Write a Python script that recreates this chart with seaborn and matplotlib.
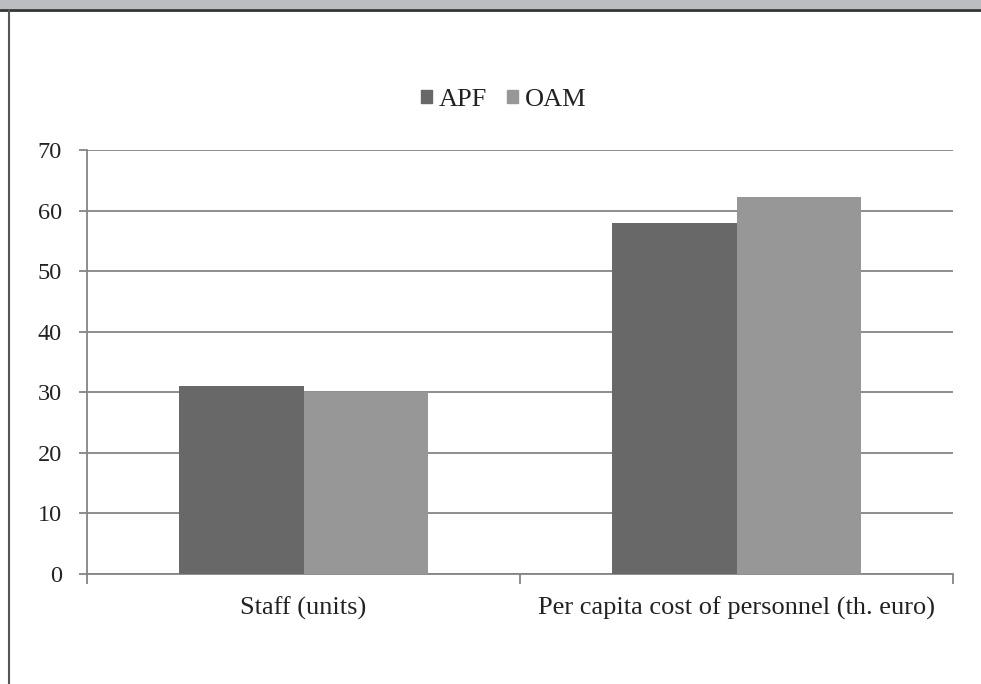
import matplotlib
matplotlib.use("Agg")
import matplotlib.pyplot as plt
import seaborn as sns
import pandas as pd
from matplotlib.patches import Rectangle
from matplotlib.lines import Line2D

categories = ["Staff (units)", "Per capita cost of personnel (th. euro)"]
series = ["APF", "OAM"]
apf_values = [31.0, 58.0]
oam_values = [30.1, 62.3]
y_ticks = [0, 10, 20, 30, 40, 50, 60, 70]

df = pd.DataFrame({
    "category": categories * 2,
    "series": [series[0]] * 2 + [series[1]] * 2,
    "value": apf_values + oam_values,
})

sns.set_style("white")
plt.rcParams["font.family"] = ["Liberation Serif", "DejaVu Serif"]

fig = plt.figure(figsize=(9.81, 6.84), dpi=100)
ax = fig.add_axes([87/981, 1-574/684, (953-87)/981, (574-150)/684])

palette = {"APF": "#686868", "OAM": "#979797"}
sns.barplot(data=df, x="category", y="value", hue="series", order=categories,
            hue_order=series, palette=palette, width=0.573, ax=ax,
            saturation=1, linewidth=0, zorder=3)

ax.set_xlim(-0.5, 1.5)
ax.set_ylim(0, 70)
ax.set_yticks(y_ticks)
ax.set_xlabel("")
ax.set_ylabel("")
ax.yaxis.grid(True, color="#858585", linewidth=1.3, zorder=0)
ax.set_axisbelow(True)
for s in ["top", "right"]:
    ax.spines[s].set_visible(False)
for s in ["left", "bottom"]:
    ax.spines[s].set_color("#858585")
    ax.spines[s].set_linewidth(1.3)

ax.tick_params(axis="y", length=6, width=1.3, color="#858585", labelsize=17.5,
               labelcolor="#222222", pad=12, direction="out", left=True)
ax.tick_params(axis="x", which="major", length=0, labelsize=19,
               labelcolor="#222222", pad=16)
ax.set_xticks([-0.5, 0.5, 1.5], minor=True)
ax.tick_params(axis="x", which="minor", length=7, width=1.3, color="#858585",
               direction="out", bottom=True)

handles = [Rectangle((0, 0), 1, 1, color=palette[s]) for s in series]
ax.legend(handles, series, loc="center", bbox_to_anchor=(0.4815, (574-100)/424),
          ncol=2, frameon=False, fontsize=19, handlelength=0.42,
          handleheight=0.42, handletextpad=0.25, columnspacing=0.75,
          labelcolor="#222222")

# page decorations: grey band at top and border lines
fig.patches.append(Rectangle((0, 1-9/684), 1, 9/684, transform=fig.transFigure,
                             facecolor="#bcbdc0", edgecolor="none", zorder=0))
fig.lines.append(Line2D([0, 1], [1-10/684, 1-10/684], transform=fig.transFigure,
                        color="#333333", linewidth=2))
fig.lines.append(Line2D([9/981, 9/981], [0, 1-10/684], transform=fig.transFigure,
                        color="#555555", linewidth=1.5))

fig.savefig("out.png", dpi=100)
